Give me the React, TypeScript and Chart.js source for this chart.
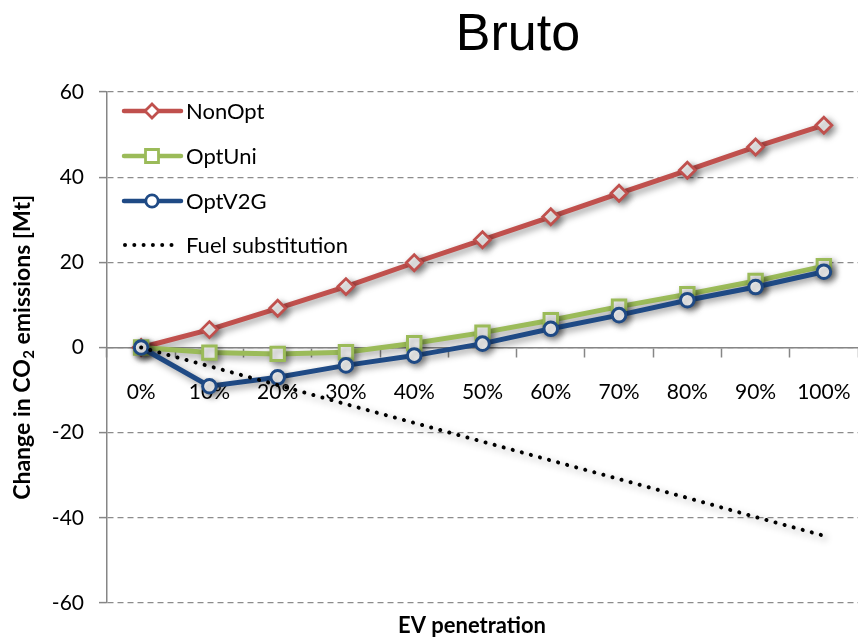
import React, { useEffect, useRef } from "react";
import { Chart, registerables } from "chart.js";

Chart.register(...registerables);

const categories = ["0%", "10%", "20%", "30%", "40%", "50%", "60%", "70%", "80%", "90%", "100%"];
const nonOpt = [0, 4.2, 9.2, 14.3, 19.9, 25.3, 30.7, 36.2, 41.6, 47.1, 52.2];
const optUni = [0, -1.2, -1.5, -1.1, 1.0, 3.5, 6.4, 9.6, 12.5, 15.6, 19.1];
const optV2G = [0, -9.1, -7.0, -4.2, -1.9, 0.9, 4.4, 7.6, 11.1, 14.2, 17.8];
const fuelSub = [0, -4.4, -8.8, -13.3, -17.7, -22.1, -26.5, -30.9, -35.3, -39.8, -44.2];
const yTicks = [-60, -40, -20, 0, 20, 40, 60];

const RED = "#C0504D";
const GREEN = "#9BBB59";
const BLUE = "#1F4A85";
const FONT = "Lato, 'Open Sans', sans-serif";

const legendItems = [
  { label: "NonOpt", color: RED, style: "diamond" },
  { label: "OptUni", color: GREEN, style: "square" },
  { label: "OptV2G", color: BLUE, style: "circle" },
  { label: "Fuel substitution", color: "#000", style: "dots" },
];

const shadowPlugin = {
  id: "shadowPlugin",
  beforeDatasetsDraw(chart: any) {
    const ctx = chart.ctx;
    ctx.save();
    ctx.shadowColor = "rgba(0,0,0,0.42)";
    ctx.shadowBlur = 7;
    ctx.shadowOffsetX = 3;
    ctx.shadowOffsetY = 3;
  },
  afterDatasetsDraw(chart: any) {
    chart.ctx.restore();
  },
};

const textPlugin = {
  id: "textPlugin",
  afterDraw(chart: any) {
    const ctx = chart.ctx;
    const area = chart.chartArea;
    // Title
    ctx.save();
    ctx.fillStyle = "#000";
    ctx.font = "52px 'Liberation Sans', Arial, sans-serif";
    ctx.textAlign = "center";
    ctx.textBaseline = "alphabetic";
    ctx.fillText("Bruto", 518, 50);

    // X axis title
    ctx.font = `bold 22px ${FONT}`;
    ctx.textAlign = "center";
    ctx.fillText("EV penetration", 472, 633);

    // Y axis title with subscript
    ctx.translate(23, (area.top + area.bottom) / 2);
    ctx.rotate(-Math.PI / 2);
    const mainFont = `bold 23px ${FONT}`;
    const subFont = `bold 15px ${FONT}`;
    const p1 = "Change in CO";
    const p2 = "2";
    const p3 = " emissions [Mt]";
    ctx.font = mainFont;
    const w1 = ctx.measureText(p1).width;
    const w3 = ctx.measureText(p3).width;
    ctx.font = subFont;
    const w2 = ctx.measureText(p2).width;
    const total = w1 + w2 + w3;
    let x = -total / 2;
    ctx.textAlign = "left";
    ctx.textBaseline = "middle";
    ctx.font = mainFont;
    ctx.fillText(p1, x, 0);
    x += w1;
    ctx.font = subFont;
    ctx.fillText(p2, x + 0.5, 6);
    x += w2 + 0.5;
    ctx.font = mainFont;
    ctx.fillText(p3, x, 0);
    ctx.restore();

    // Legend
    const rowsY = [111, 156, 201, 245];
    const x0 = 124;
    const x1 = 181;
    const mx = 152;
    legendItems.forEach((it, i) => {
      const y = rowsY[i];
      ctx.save();
      ctx.strokeStyle = it.color;
      if (it.style === "dots") {
        ctx.fillStyle = "#000";
        for (let dx = 0; dx <= 52; dx += 9.3) {
          ctx.beginPath();
          ctx.arc(x0 + 1 + dx, y, 2, 0, Math.PI * 2);
          ctx.fill();
        }
      } else {
        ctx.lineWidth = 4.5;
        ctx.lineCap = "round";
        ctx.beginPath();
        ctx.moveTo(x0, y);
        ctx.lineTo(x1, y);
        ctx.stroke();
        ctx.fillStyle = "#fff";
        ctx.lineWidth = 2.8;
        ctx.lineCap = "butt";
        ctx.beginPath();
        if (it.style === "diamond") {
          const r = 7;
          ctx.moveTo(mx, y - r);
          ctx.lineTo(mx + r, y);
          ctx.lineTo(mx, y + r);
          ctx.lineTo(mx - r, y);
          ctx.closePath();
        } else if (it.style === "square") {
          const s = 6.5;
          ctx.rect(mx - s, y - s, 2 * s, 2 * s);
        } else {
          ctx.arc(mx, y, 6.2, 0, Math.PI * 2);
        }
        ctx.fill();
        ctx.stroke();
      }
      ctx.fillStyle = "#000";
      ctx.font = `22px ${FONT}`;
      ctx.textAlign = "left";
      ctx.textBaseline = "middle";
      ctx.fillText(it.label, 186, y + 1);
      ctx.restore();
    });
  },
};

export default function App() {
  const canvasRef = useRef<HTMLCanvasElement | null>(null);

  useEffect(() => {
    document.body.style.margin = "0";
    const canvas = canvasRef.current;
    if (!canvas) return;
    const chart = new Chart(canvas, {
      type: "line",
      data: {
        labels: categories,
        datasets: [
          {
            label: "NonOpt",
            data: nonOpt,
            borderColor: RED,
            backgroundColor: "#fff",
            borderWidth: 5,
            pointStyle: "rectRot",
            pointRadius: 8,
            pointBorderWidth: 2.8,
            pointBorderColor: RED,
            pointBackgroundColor: "#fff",
            tension: 0,
            order: 4,
          },
          {
            label: "OptUni",
            data: optUni,
            borderColor: GREEN,
            backgroundColor: "#fff",
            borderWidth: 5,
            pointStyle: "rect",
            pointRadius: 9.5,
            pointBorderWidth: 3,
            pointBorderColor: GREEN,
            pointBackgroundColor: "#fff",
            tension: 0,
            order: 3,
          },
          {
            label: "OptV2G",
            data: optV2G,
            borderColor: BLUE,
            backgroundColor: "#fff",
            borderWidth: 5,
            pointStyle: "circle",
            pointRadius: 6.8,
            pointBorderWidth: 3,
            pointBorderColor: BLUE,
            pointBackgroundColor: "#fff",
            tension: 0,
            order: 2,
          },
          {
            label: "Fuel substitution",
            data: fuelSub,
            borderColor: "#000",
            borderWidth: 4,
            borderDash: [0.1, 9.3],
            borderCapStyle: "round",
            pointRadius: 0,
            tension: 0,
            order: 1,
          },
        ],
      },
      options: {
        animation: false,
        responsive: true,
        maintainAspectRatio: false,
        layout: { autoPadding: false, padding: { top: 92, bottom: 35, left: 0, right: 0 } },
        plugins: {
          legend: { display: false },
          title: { display: false },
          tooltip: { enabled: false },
        },
        scales: {
          x: {
            type: "category",
            position: { y: 0 },
            offset: true,
            afterFit(scale: any) {
              scale.paddingLeft = 0;
              scale.paddingRight = 0;
            },
            grid: {
              display: true,
              drawOnChartArea: false,
              drawTicks: true,
              offset: true,
              tickLength: 9,
              tickColor: "#868686",
              tickWidth: 1.5,
            },
            border: { display: true, color: "#868686", width: 1.5 },
            ticks: {
              color: "#000",
              font: { family: FONT, size: 21 },
              padding: 23,
              maxRotation: 0,
              autoSkip: false,
            },
          },
          y: {
            type: "linear",
            min: -60,
            max: 60,
            afterFit(scale: any) {
              scale.width = 107;
            },
            afterBuildTicks(scale: any) {
              scale.ticks = yTicks.map((v) => ({ value: v }));
            },
            grid: {
              color: "#8C8C8C",
              lineWidth: 1.2,
              drawTicks: true,
              tickLength: 8,
              tickColor: "#868686",
              tickWidth: 1.5,
              tickBorderDash: [],
            },
            border: { display: true, color: "#868686", width: 1.5, dash: [6, 4] },
            ticks: {
              color: "#000",
              font: { family: FONT, size: 21 },
              padding: 15,
            },
          },
        },
      },
      plugins: [shadowPlugin, textPlugin],
    } as any);
    return () => chart.destroy();
  }, []);

  return (
    <div style={{ width: 858, height: 638, position: "relative" }}>
      <canvas ref={canvasRef} />
    </div>
  );
}
